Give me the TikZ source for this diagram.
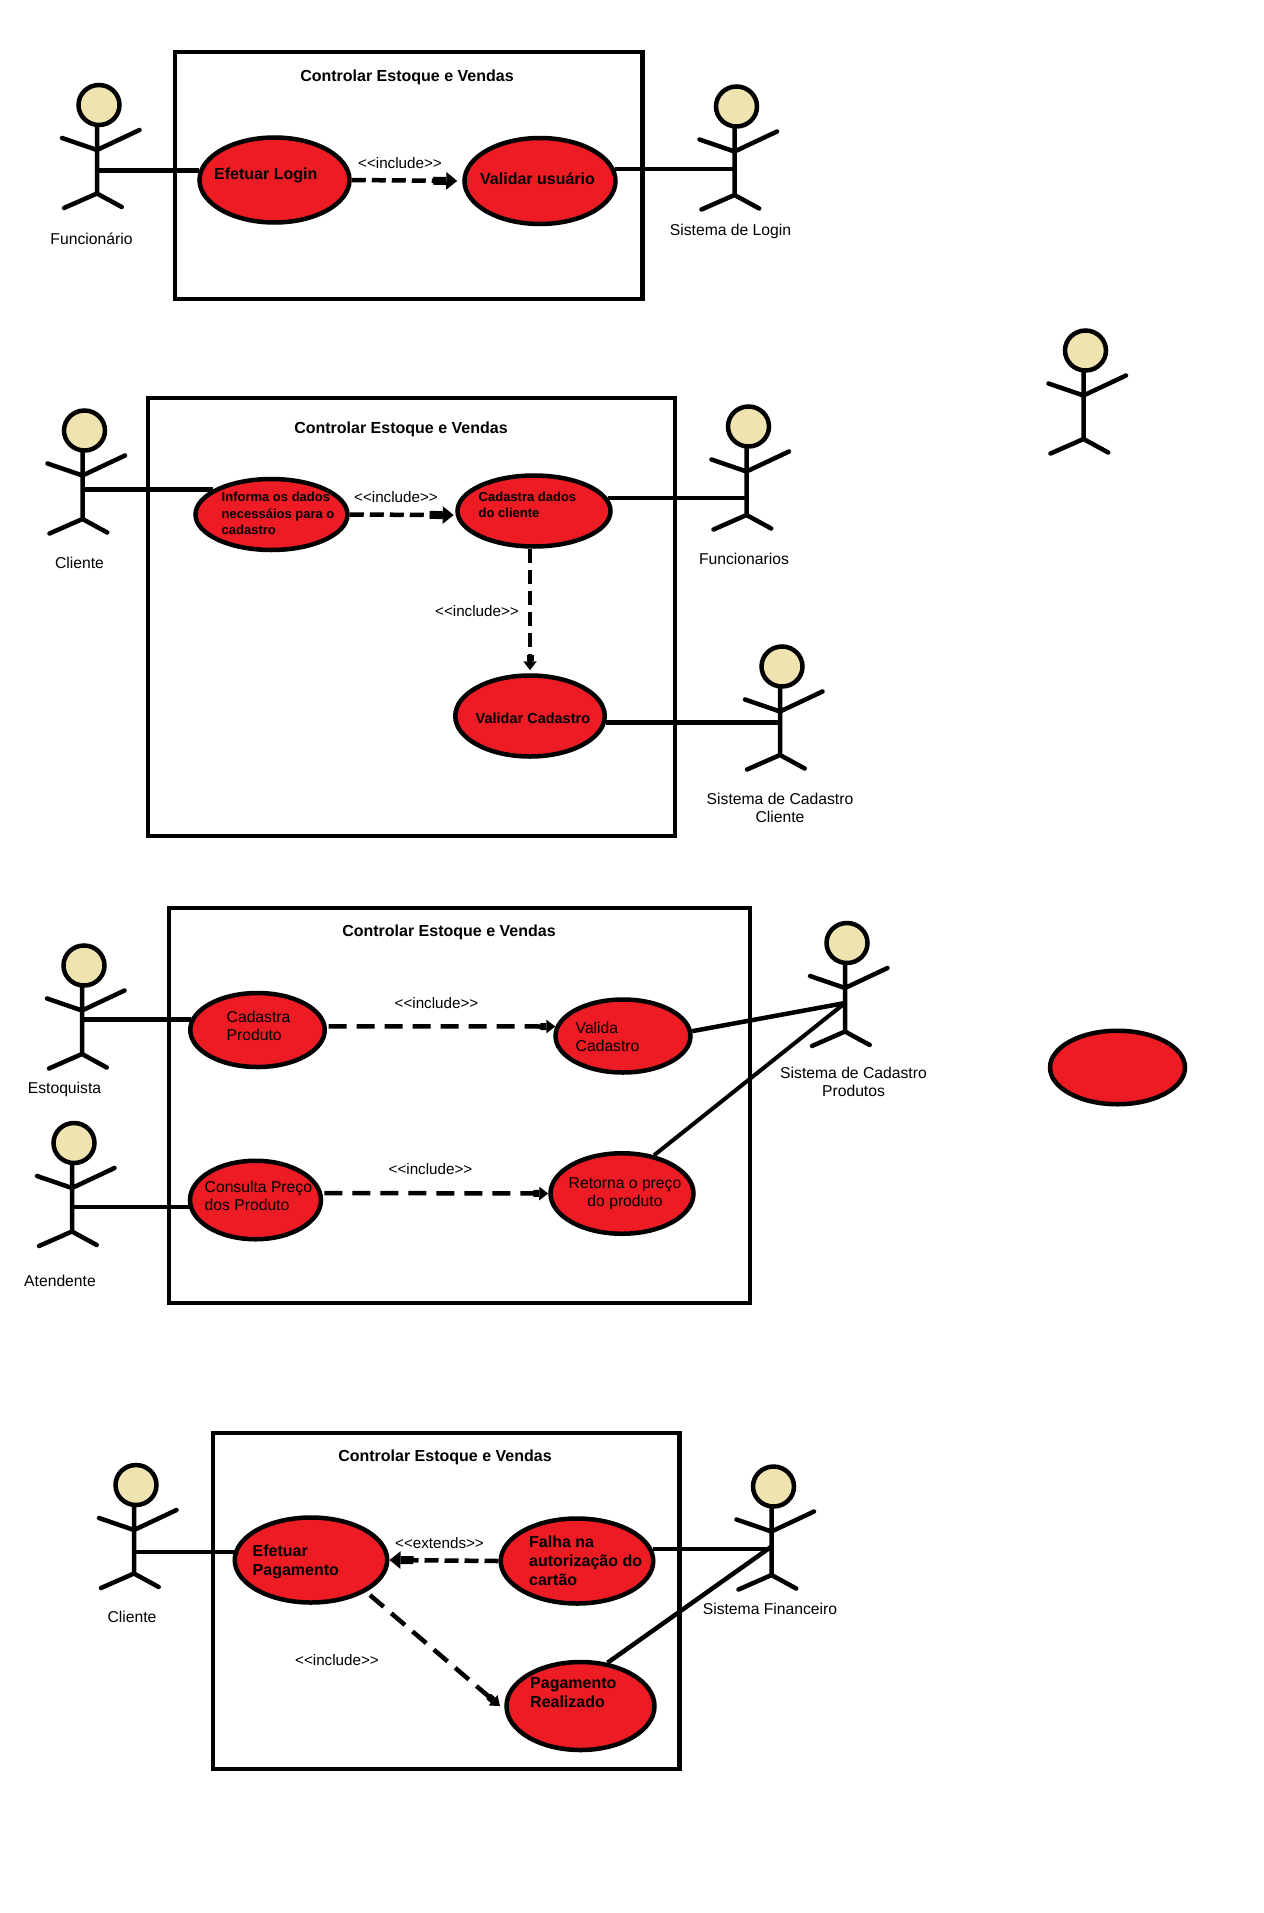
\documentclass[tikz,border=0pt]{standalone}
\usepackage{fontspec}
\setmainfont{Liberation Sans}
\usetikzlibrary{arrows.meta,shapes.geometric}
\definecolor{casefill}{HTML}{ED1C24}
\definecolor{headfill}{HTML}{EFE4B0}
\newcommand{\includetag}{<{}<include>{}>}
\tikzset{
  usecase/.style={
    ellipse,
    draw=black,
    fill=casefill,
    line width=4.5pt,
    inner sep=0pt
  },
  actorhead/.style={
    ellipse,
    draw=black,
    fill=headfill,
    line width=4.5pt,
    minimum width=41,
    minimum height=40,
    inner sep=0pt
  },
  stick/.style={draw=black,line width=4.5pt,line cap=round,line join=round},
  actor/.pic={
    \coordinate (-link) at (-2,60);
    \draw[stick] (-2,19) -- (-2,88.5)
      (-37,33) -- (-2,45) -- (40.5,25)
      (-35,103) -- (-2,88.5) -- (22.7,102);
    \node[actorhead] (-head) at (0,0) {};
  },
  sysbox/.style={draw=black,line width=4.5pt},
  systitle/.style={font=\fontsize{16}{19}\selectfont\bfseries},
  actorname/.style={align=center,inner sep=0pt,font=\fontsize{15.7}{18}\selectfont},
  deplabel/.style={inner sep=0pt,font=\fontsize{15.2}{18}\selectfont},
  casetext/.style={anchor=west,align=left,inner sep=0pt,font=\fontsize{15.7}{18}\selectfont},
  casebold/.style={anchor=west,align=left,inner sep=0pt,font=\fontsize{16}{19}\selectfont\bfseries},
  casesmall/.style={anchor=west,align=left,inner sep=0pt,font=\fontsize{13}{16.3}\selectfont\bfseries},
  assoc/.style={draw=black,line width=4.5pt},
  depend/.style={
    -{Rectangle[length=13pt,width=8pt]Triangle[length=11pt,width=17pt]},
    draw=black,
    line width=4.5pt,
    dash pattern=on 14pt off 6pt
  },
  dependlong/.style={
    -{Rectangle[length=6pt,width=7pt]Triangle[length=9pt,width=13pt]},
    draw=black,
    line width=4.5pt,
    dash pattern=on 18pt off 10pt
  }
}
\begin{document}
\begin{tikzpicture}[x=1pt,y=-1pt]
  \useasboundingbox (0,0) rectangle (1263,1913);

  % First system: login.
  \draw[sysbox] (175,52) rectangle (642.5,299);
  \node[systitle] (title1) at (407,77) {Controlar Estoque e Vendas};
  \pic (func) at (99,105) {actor};
  \pic (sysLogin) at (736.5,106.5) {actor};
  \node[actorname] (funcName) at (91.5,239) {Funcionário};
  \node[actorname] (sysLoginName) at (730.5,231.5) {Sistema de Login};
  \node[usecase,minimum width=150,minimum height=85] (login) at (274.5,180) {};
  \node[usecase,minimum width=151,minimum height=86] (validUser) at (540,181) {};
  \node[casebold] (loginText) at (214,175) {Efetuar Login};
  \node[casebold] (validUserText) at (480,178.5) {Validar usuário};
  \node[deplabel] (inc1) at (400,163) {\includetag};
  \draw[assoc] (login.173) -- (login.173 -| func-link);
  \draw[assoc] (validUser.9) -- (validUser.9 -| sysLogin-link);
  \draw[depend,shorten >=5pt] (login.east) -- (validUser.west);

  % Second system: customer registration.
  \draw[sysbox] (148,398) rectangle (675,836);
  \node[systitle] (title2) at (401,429) {Controlar Estoque e Vendas};
  \pic (client) at (84.5,430.5) {actor};
  \pic (staff) at (748.5,426.5) {actor};
  \pic (sysClient) at (782,666.5) {actor};
  \node[actorname] (clientName) at (79.5,563) {Cliente};
  \node[actorname] (staffName) at (744,558.5) {Funcionarios};
  \node[actorname] (sysClientName) at (780,808) {Sistema de Cadastro\\Cliente};
  \node[usecase,minimum width=152,minimum height=71] (inform) at (271.5,514.5) {};
  \node[usecase,minimum width=153,minimum height=71] (register) at (534,511) {};
  \node[usecase,minimum width=149.5,minimum height=81] (validReg) at (530,716) {};
  \node[casesmall] (informText) at (221.5,513.5)
    {Informa os dados\\necessáios para o\\cadastro};
  \node[casesmall] (registerText) at (478.5,504.5) {Cadastra dados\\do cliente};
  \node[casebold,font=\fontsize{14.5}{18}\selectfont\bfseries] (validRegText) at (475.5,718) {Validar Cadastro};
  \node[deplabel] (inc2) at (396,497) {\includetag};
  \node[deplabel] (inc3) at (477,611) {\includetag};
  \draw[assoc] (inform.157) -- (inform.157 -| client-link);
  \draw[assoc] (register.10) -- (register.10 -| staff-link);
  \draw[assoc] (validReg.-5) -- (validReg.-5 -| sysClient-link);
  \draw[depend,shorten >=2pt] (inform.east) -- (register.183);
  \draw[dependlong,dash pattern=on 14pt off 7pt,shorten >=3pt]
    (validReg.north |- register.south) -- (validReg.north);

  % Third system: products.
  \draw[sysbox] (169,908) rectangle (750,1303);
  \node[systitle] (title3) at (449,932) {Controlar Estoque e Vendas};
  \pic (stock) at (84,965.5) {actor};
  \pic (attend) at (74,1143) {actor};
  \pic (sysProd) at (847,943) {actor};
  \node[actorname] (stockName) at (64.5,1089) {Estoquista};
  \node[actorname] (attendName) at (60,1281) {Atendente};
  \node[actorname] (sysProdName) at (853.5,1082) {Sistema de Cadastro\\Produtos};
  \node[usecase,minimum width=134.5,minimum height=74] (addProd) at (257.5,1030) {};
  \node[usecase,minimum width=135,minimum height=73] (validProd) at (623,1036) {};
  \node[usecase,minimum width=131,minimum height=78.5] (query) at (255.5,1200) {};
  \node[usecase,minimum width=143,minimum height=80.5] (price) at (622,1193.5) {};
  \node[casetext] (addProdText) at (226.5,1025.5) {Cadastra\\Produto};
  \node[casetext] (validProdText) at (575.5,1037) {Valida\\Cadastro};
  \node[casetext] (queryText) at (204.5,1196) {Consulta Preço\\dos Produto};
  \node[casetext,anchor=center,align=center] (priceText) at (625,1194) {Retorna o preço\\do produto};
  \node[deplabel] (inc4) at (436.5,1003.5) {\includetag};
  \node[deplabel] (inc5) at (430.5,1169) {\includetag};
  \draw[assoc] (addProd.171) -- (addProd.171 -| stock-link);
  \draw[assoc] (query.186) -- (query.186 -| attend-link);
  \draw[assoc] (validProd.4) -- (sysProd-link);
  \draw[assoc,line width=4pt] (price.50) -- (sysProd-link);
  \draw[dependlong,shorten <=2pt] (addProd.3) -- (validProd.172);
  \draw[dependlong,shorten <=2pt] (query.6) -- (price.west);

  % Fourth system: payment.
  \draw[sysbox] (213,1433) rectangle (679.5,1769);
  \node[systitle] (title4) at (445,1457) {Controlar Estoque e Vendas};
  \pic (payer) at (136,1485) {actor};
  \pic (sysFin) at (773.5,1486.5) {actor};
  \node[actorname] (payerName) at (132,1617) {Cliente};
  \node[actorname] (sysFinName) at (770,1609) {Sistema Financeiro};
  \node[usecase,minimum width=152.5,minimum height=85] (pay) at (311,1560) {};
  \node[usecase,minimum width=152.5,minimum height=85] (fail) at (577,1561) {};
  \node[usecase,minimum width=148,minimum height=88] (paid) at (580.5,1706) {};
  \node[casebold] (payText) at (252.5,1562) {Efetuar\\Pagamento};
  \node[casebold] (failText) at (529,1560.5) {Falha na\\autorização do\\cartão};
  \node[casebold] (paidText) at (530,1692.5) {Pagamento\\Realizado};
  \node[deplabel] (ext1) at (439.5,1543.5) {<{}<extends>{}>};
  \node[deplabel] (inc6) at (337,1660.5) {\includetag};
  \draw[assoc] (pay.174) -- (pay.174 -| payer-link);
  \draw[assoc] (fail.9) -- (fail.9 -| sysFin-link);
  \draw[assoc] (paid.58) -- (sysFin-link);
  \draw[depend] (fail.west) -- (pay.east);
  \draw[dependlong,shorten <=5pt,shorten >=6pt] (pay.-30) -- (paid.183);

  % Loose shapes at the right.
  \pic (spare) at (1085.5,350.5) {actor};
  \node[usecase,minimum width=135,minimum height=73.5] (spareCase) at (1117.5,1067.5) {};
\end{tikzpicture}
\end{document}
